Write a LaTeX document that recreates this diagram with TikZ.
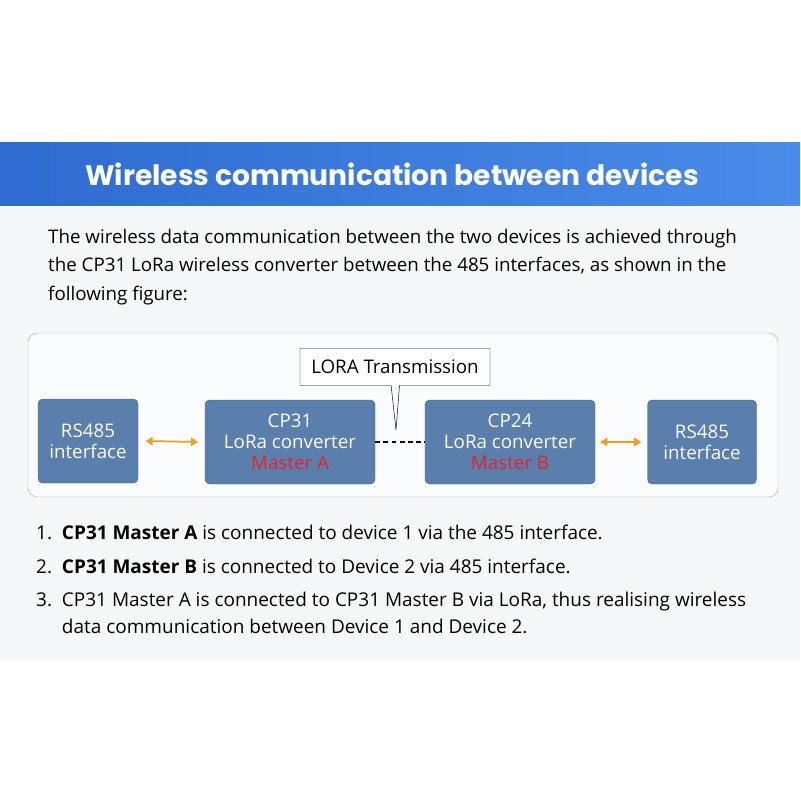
\documentclass[tikz,border=0pt]{standalone}
\usepackage{fontspec}
\setmainfont{Open Sans}
\newfontfamily\titlefont{Poppins}
\usetikzlibrary{positioning,shapes.callouts,arrows.meta}
\definecolor{boxblue}{HTML}{5B7FAD}
\definecolor{bannerA}{HTML}{2F6BD0}
\definecolor{bannerB}{HTML}{4A8BE8}
\definecolor{paper}{HTML}{F6F7F9}
\definecolor{linkorange}{HTML}{F0A020}
\definecolor{masterred}{HTML}{E8202A}
\begin{document}
\begin{tikzpicture}[x=0.3mm,y=-0.3mm,
    box/.style = {draw=boxblue!80!black, fill=boxblue, rounded corners=4pt, text=white, align=center, font=\fontsize{16}{18}\selectfont, inner sep=0pt},
    link/.style = {linkorange, line width=1.5pt, {Triangle[length=6pt,width=7pt]}-{Triangle[length=6pt,width=7pt]}},
    item/.style = {anchor=west, font=\fontsize{16.2}{23}\selectfont, inner sep=0pt, align=left}]
    \useasboundingbox (0,0) rectangle (800,800);
    \fill[white] (0,0) rectangle (800,800);
    \fill[paper] (0,205) rectangle (800,660);
    \shade[left color=bannerA, right color=bannerB] (0,142) rectangle (800,205);
    \node[text=white, font=\titlefont\fontsize{24}{28}\selectfont\bfseries] (title) at (392,174) {Wireless communication between devices};

    \node[anchor=north west, inner sep=0pt, align=left, font=\fontsize{16}{24.3}\selectfont] (intro) at (48,229)
        {The wireless data communication between the two devices is achieved through\\the CP31 LoRa wireless converter between the 485 interfaces, as shown in the\\following figure:};

    \draw[gray!60, fill=white!60!paper, rounded corners=8pt] (28,333) rectangle (778,497);

    \node[box, minimum width=100*0.3mm, minimum height=84*0.3mm] (rsA) at (88,441) {RS485\\interface};
    \node[box, minimum width=170*0.3mm, minimum height=84*0.3mm] (cpA) at (290,442) {CP31\\LoRa converter\\{\color{masterred}Master A}};
    \node[box, minimum width=170*0.3mm, minimum height=84*0.3mm] (cpB) at (510,442) {CP24\\LoRa converter\\{\color{masterred}Master B}};
    \node[box, minimum width=109*0.3mm, minimum height=84*0.3mm] (rsB) at (702,442) {RS485\\interface};

    \draw[link] ([xshift=2.2mm]rsA.east) -- ([xshift=-2mm]cpA.west);
    \draw[link] ([xshift=1.5mm]cpB.east) -- ([xshift=-1.8mm]rsB.west);
    \draw[black, line width=1.2pt, dash pattern=on 4pt off 3pt] (cpA) -- (cpB);

    \node[rectangle callout, draw=black, fill=white, minimum width=190*0.3mm, minimum height=37*0.3mm,
          font=\fontsize{16}{18}\selectfont, callout absolute pointer={(396,430)}] (lora) at (395,367) {LORA Transmission};

    \node[item] (i1) at (36,532) {1.\ \ \textbf{CP31 Master A} is connected to device 1 via the 485 interface.};
    \node[item] (i2) at (36,566) {2.\ \ \textbf{CP31 Master B} is connected to Device 2 via 485 interface.};
    \node[item, anchor=north west] (i3) at (36,592) {3.\ \ CP31 Master A is connected to CP31 Master B via LoRa, thus realising wireless\\\hphantom{3.\ \ }data communication between Device 1 and Device 2.};
\end{tikzpicture}
\end{document}
